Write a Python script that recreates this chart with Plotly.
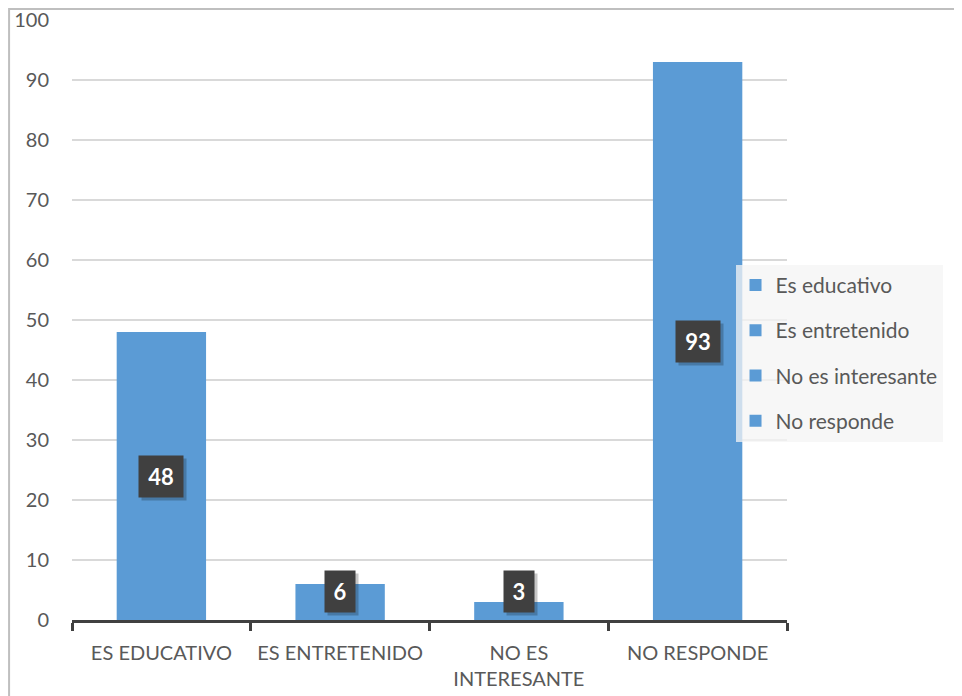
import plotly.graph_objects as go

categories = ["ES EDUCATIVO", "ES ENTRETENIDO", "NO ES<br>INTERESANTE", "NO RESPONDE"]
legend_names = ["Es educativo", "Es entretenido", "No es interesante", "No responde"]
values = [48, 6, 3, 93]
y_ticks = list(range(0, 101, 10))

BLUE = "#5b9bd5"
TXT = "#595959"
FONT = "Lato"

fig = go.Figure()
for cat, name, v in zip(categories, legend_names, values):
    fig.add_trace(go.Bar(
        x=[cat], y=[v], name=name, width=0.5,
        marker=dict(color=BLUE, line=dict(width=0)),
        legendgroup=name, showlegend=True,
    ))

annotations = []
for cat, v in zip(categories, values):
    ypos = max(v / 2, 4.7)
    w = 2 + 14 * len(str(v))
    # shadow
    annotations.append(dict(
        x=cat, y=ypos, xref="x", yref="y", text="<b>%d</b>" % v, showarrow=False,
        font=dict(family=FONT, size=22, color="rgba(0,0,0,0)"),
        bgcolor="rgba(0,0,0,0.22)", borderpad=7, width=w,
        xshift=3, yshift=-3,
    ))
    annotations.append(dict(
        x=cat, y=ypos, xref="x", yref="y", text="<b>%d</b>" % v, showarrow=False,
        font=dict(family=FONT, size=22, color="white"),
        bgcolor="#404040", borderpad=7, width=w,
    ))

# page body has an 8px margin; figure is sized so the plot area lands where the reference has it
fig.update_layout(
    width=954, height=688,
    margin=dict(l=64, r=175, t=12, b=76, autoexpand=False),
    paper_bgcolor="white", plot_bgcolor="white",
    barmode="overlay",
    font=dict(family=FONT, size=20, color=TXT),
    annotations=annotations,
    legend=dict(
        x=0.928, xanchor="left", y=0.592, yanchor="top",
        bgcolor="rgba(244,244,244,0.75)",
        font=dict(family=FONT, size=21, color=TXT),
        traceorder="grouped", tracegroupgap=15,
        itemwidth=30,
    ),
    xaxis=dict(
        type="category", range=[-0.5, 3.5], automargin=False,
        tickson="boundaries", ticks="outside", ticklen=8, tickwidth=2.5,
        tickcolor="#404040", showline=True, linecolor="#404040", linewidth=2.5,
        showgrid=False, ticklabelstandoff=13,
        tickfont=dict(family=FONT, size=20, color=TXT),
    ),
    yaxis=dict(
        range=[0, 100], tickvals=y_ticks, showgrid=True, gridcolor="#d9d9d9",
        gridwidth=1.5, zeroline=False, showline=False, ticklabeloverflow="allow",
        automargin=False,
        ticklabelstandoff=22, tickfont=dict(family=FONT, size=20, color=TXT),
    ),
    shapes=[dict(
        type="rect", xref="paper", yref="paper",
        x0=-0.088, x1=1.6, y0=-0.5, y1=1.0185,
        line=dict(color="#bfbfbf", width=2), fillcolor="rgba(0,0,0,0)",
        layer="below",
    )],
)

fig.write_html("out.html", config={"displayModeBar": False})
